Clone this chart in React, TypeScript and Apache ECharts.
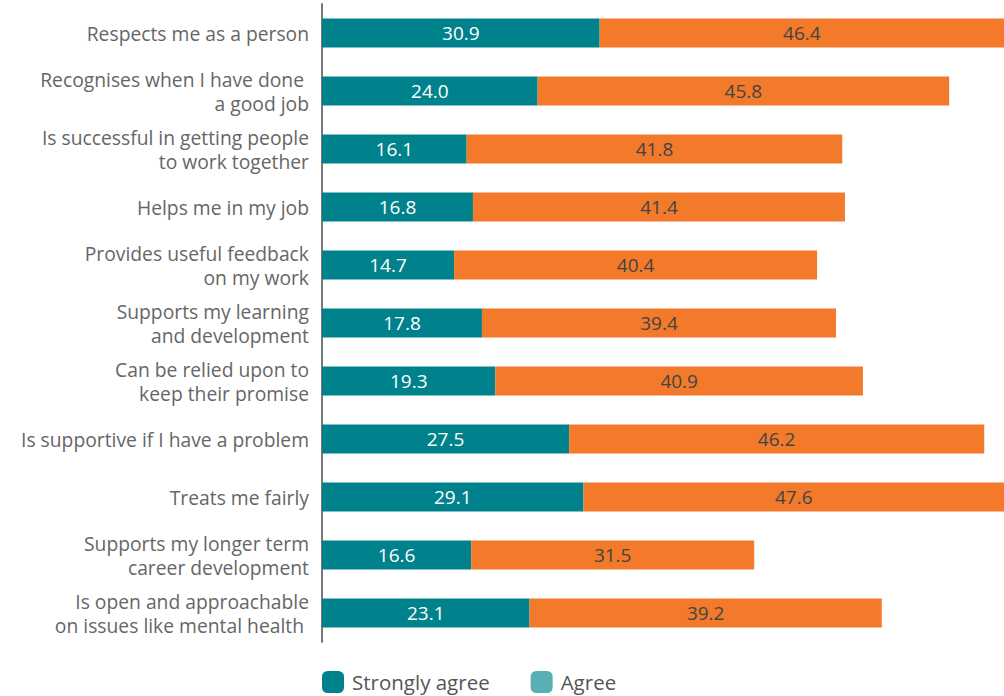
import React, { useEffect, useRef } from "react";
import * as echarts from "echarts";

const categories = [
  "Respects me as a person",
  "Recognises when I have done \na good job",
  "Is successful in getting people\nto work together",
  "Helps me in my job",
  "Provides useful feedback\non my work",
  "Supports my learning\nand development",
  "Can be relied upon to\nkeep their promise",
  "Is supportive if I have a problem",
  "Treats me fairly",
  "Supports my longer term\ncareer development",
  "Is open and approachable\non issues like mental health ",
];
const stronglyAgree = [30.9, 24.0, 16.1, 16.8, 14.7, 17.8, 19.3, 27.5, 29.1, 16.6, 23.1];
const agree = [46.4, 45.8, 41.8, 41.4, 40.4, 39.4, 40.9, 46.2, 47.6, 31.5, 39.2];

const FONT = "'Open Sans', Lato, sans-serif";

export default function App() {
  const ref = useRef<HTMLDivElement>(null);
  useEffect(() => {
    if (!ref.current) return;
    const chart = echarts.init(ref.current, undefined, { renderer: "svg" });
    chart.setOption({
      animation: false,
      textStyle: { fontFamily: FONT },
      grid: { left: 322, right: 0, top: 4, bottom: 54 },
      legend: {
        bottom: 3,
        left: 322,
        padding: 0,
        itemWidth: 22,
        itemHeight: 22,
        itemGap: 41,
        textStyle: { fontSize: 20.5, color: "#555", fontFamily: FONT, padding: [0, 0, 0, 3] },
        data: [
          { name: "Strongly agree", itemStyle: { color: "#00828C" } },
          { name: "Agree", itemStyle: { color: "#5AAFB4" } },
        ],
      },
      xAxis: {
        type: "value",
        min: 0,
        max: 75.9,
        show: false,
      },
      yAxis: {
        type: "category",
        inverse: true,
        data: categories,
        axisLine: { show: true, lineStyle: { color: "#777", width: 2 } },
        axisTick: { show: false },
        axisLabel: {
          fontSize: 19.3,
          color: "#666",
          lineHeight: 24,
          margin: 13,
          align: "right",
          fontFamily: FONT,
        },
      },
      series: [
        {
          name: "Strongly agree",
          type: "bar",
          stack: "total",
          barWidth: 29,
          data: stronglyAgree,
          itemStyle: { color: "#00828C" },
          label: {
            show: true,
            position: "inside",
            color: "#fff",
            fontSize: 19,
            fontFamily: FONT,
            formatter: (p: any) => p.value.toFixed(1),
          },
        },
        {
          name: "Agree",
          type: "bar",
          stack: "total",
          barWidth: 29,
          data: agree,
          itemStyle: { color: "#F27A2A" },
          label: {
            show: true,
            position: "inside",
            color: "#444",
            fontSize: 19,
            fontFamily: FONT,
            formatter: (p: any) => p.value.toFixed(1),
          },
        },
      ],
    });
    return () => chart.dispose();
  }, []);
  return <div ref={ref} style={{ width: 1004, height: 696, position: "absolute", left: 0, top: 0 }} />;
}
